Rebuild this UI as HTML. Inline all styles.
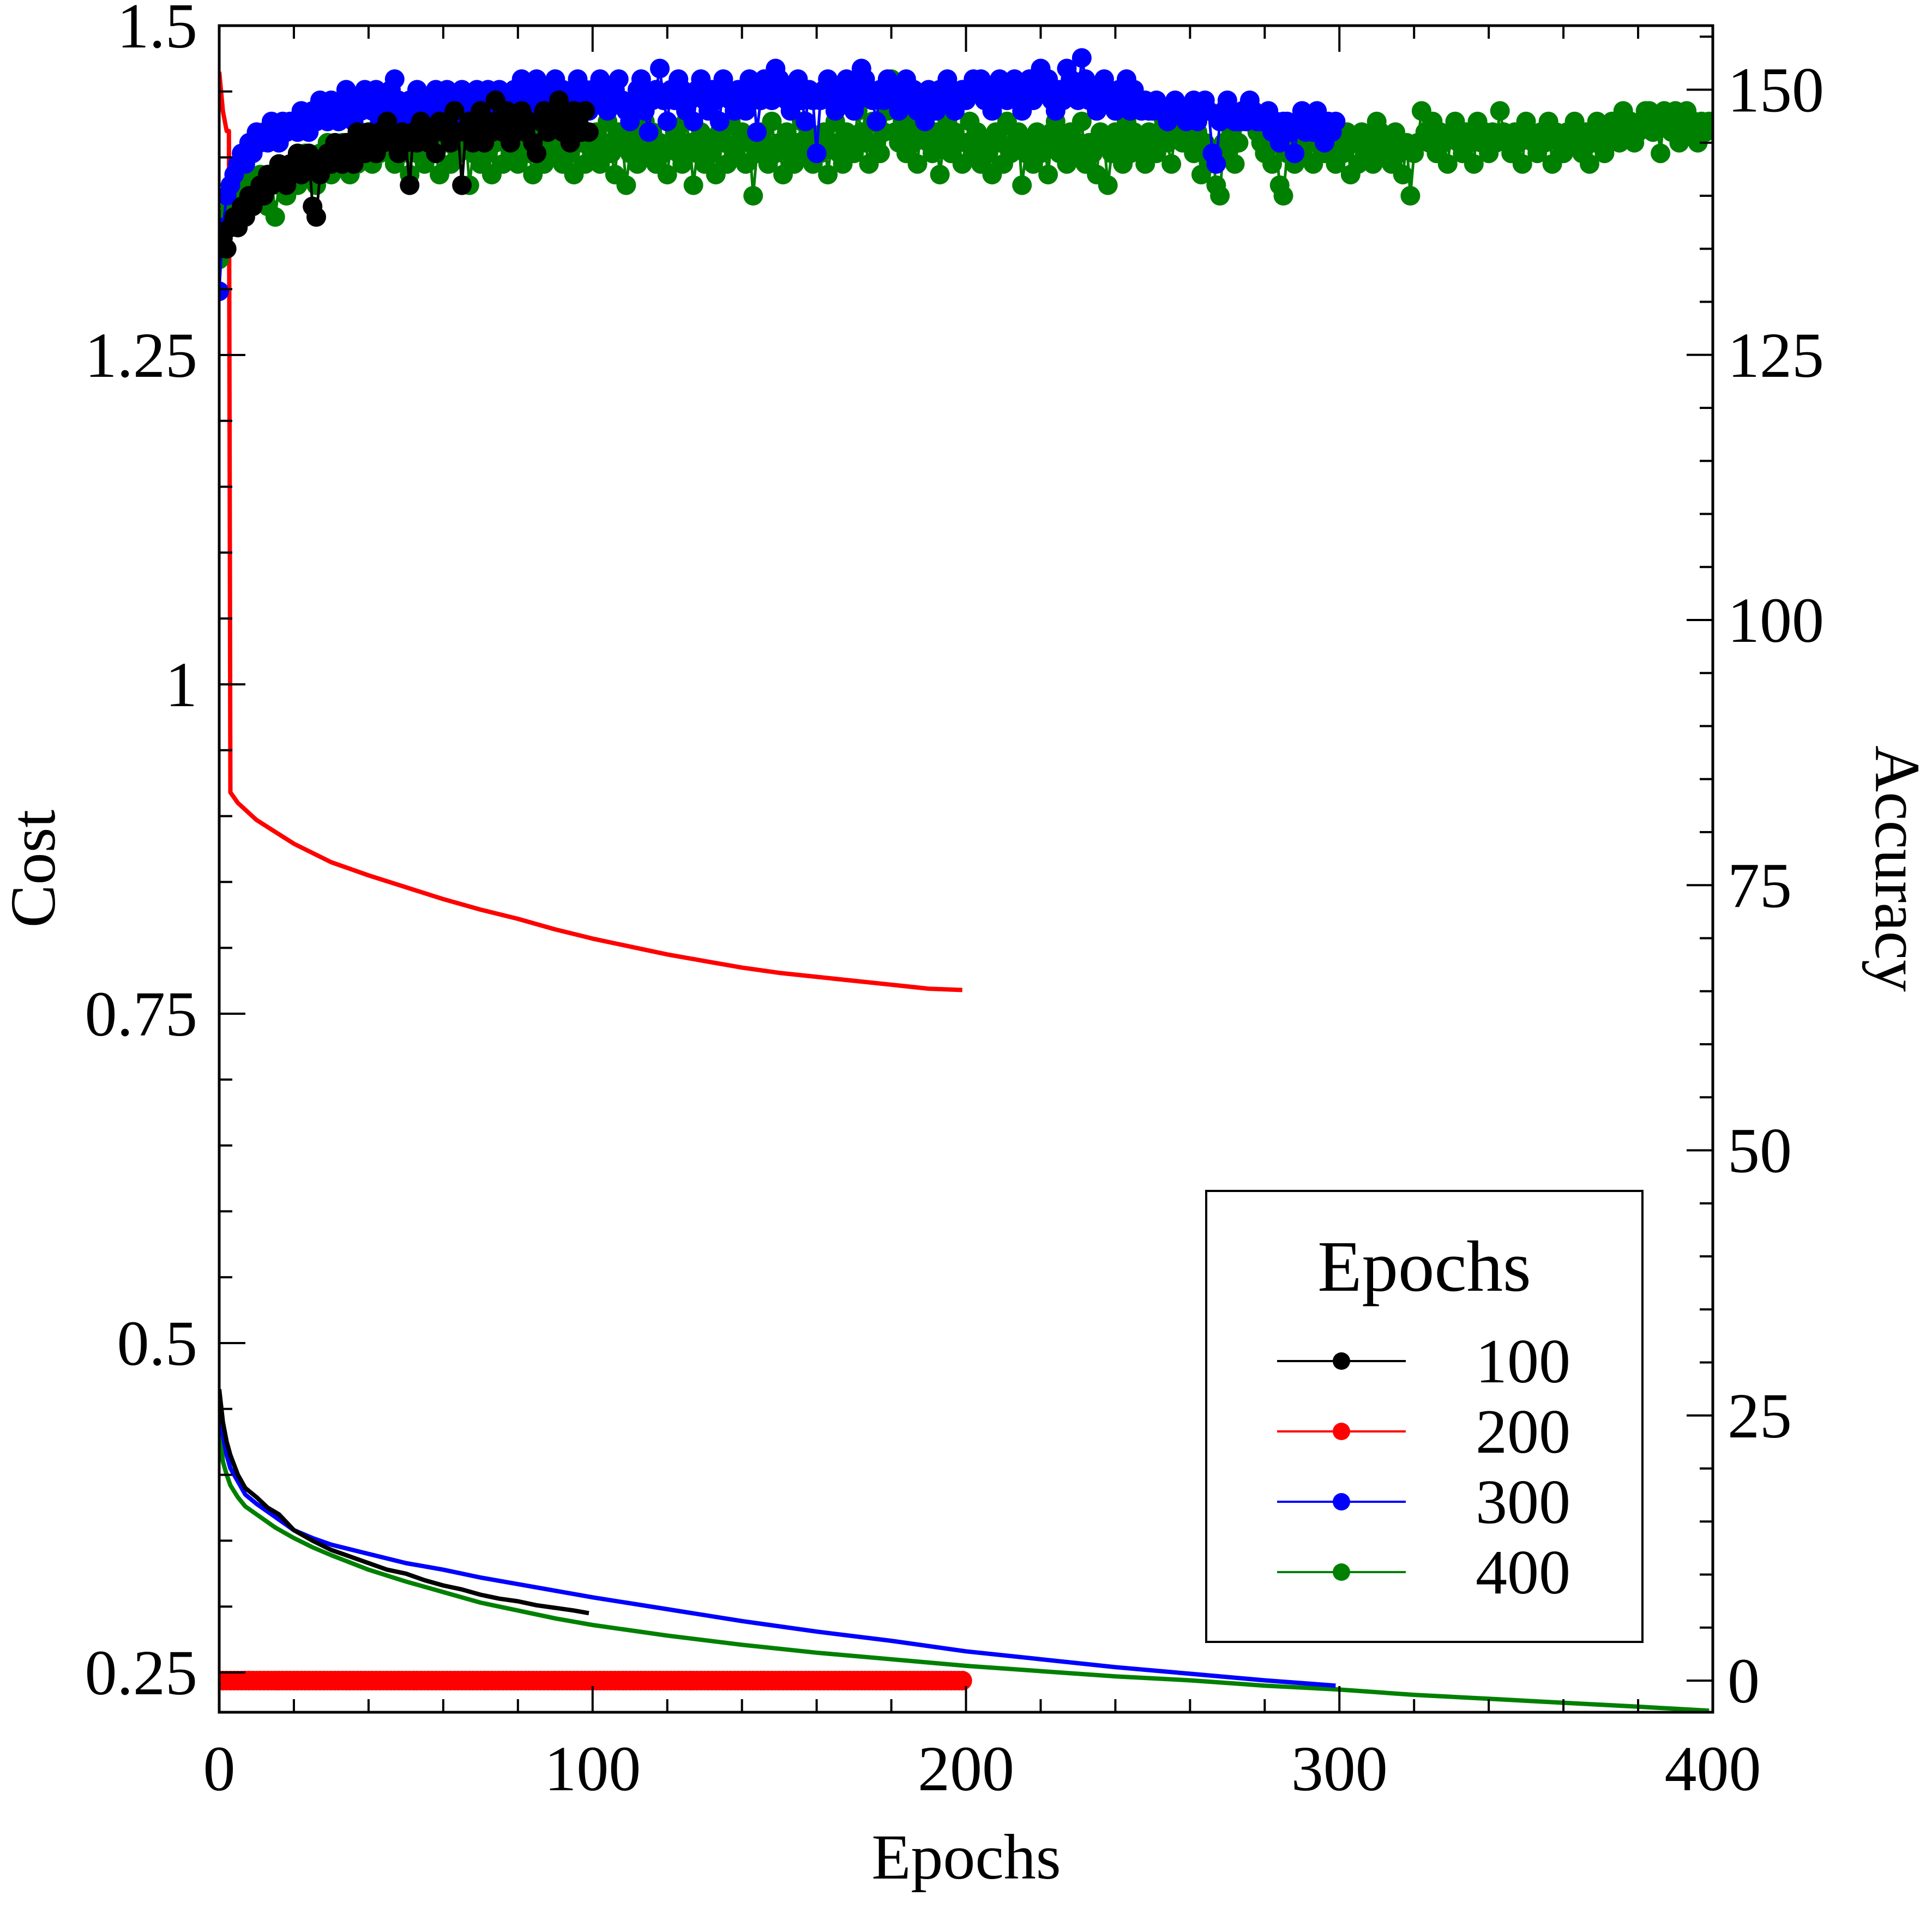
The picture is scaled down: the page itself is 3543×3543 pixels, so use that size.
<!DOCTYPE html>
<html><head><meta charset="utf-8"><style>
html,body{margin:0;padding:0;background:#fff;}
svg{display:block;font-family:"Liberation Serif","DejaVu Serif",serif;}
</style></head><body>
<svg id="chart" width="3543" height="3543" viewBox="0 0 3543 3543" xmlns="http://www.w3.org/2000/svg">
<rect x="0" y="0" width="3543" height="3543" fill="#fff"/>
<g id="marks"></g>
<g id="axes"></g>
<g id="legend"></g>
</svg>
<script>
const xTicks=[0,100,200,300,400];
const costTicks=[0.25,0.5,0.75,1,1.25,1.5];
const costTickLabels=["0.25","0.5","0.75","1","1.25","1.5"];
const accTicks=[0,25,50,75,100,125,150];
const legendLabels=["100","200","300","400"];

const blackCostEpochs=[0,1,2,3,5,7,10,13,16,20,25,30,35,40,45,50,55,60,65,70,75,80,85,90,95,99];
const blackCost=[0.465,0.44,0.425,0.415,0.40,0.39,0.383,0.375,0.37,0.358,0.35,0.343,0.338,0.333,0.328,0.325,0.32,0.316,0.313,0.309,0.306,0.304,0.301,0.299,0.297,0.295];
const blueCostEpochs=[0,1,2,3,5,7,10,15,20,25,30,40,50,60,70,80,90,100,120,140,160,180,200,220,240,260,280,299];
const blueCost=[0.45,0.43,0.415,0.405,0.395,0.385,0.378,0.368,0.358,0.352,0.347,0.34,0.333,0.328,0.322,0.317,0.312,0.307,0.298,0.289,0.281,0.274,0.266,0.26,0.254,0.249,0.244,0.240];
const greenCostEpochs=[0,1,2,3,5,7,10,15,20,25,30,40,50,60,70,80,90,100,120,140,160,180,200,220,240,260,280,300,320,340,360,380,399];
const greenCost=[0.44,0.41,0.40,0.392,0.383,0.376,0.37,0.36,0.352,0.345,0.339,0.328,0.319,0.311,0.303,0.297,0.291,0.286,0.278,0.271,0.265,0.26,0.255,0.251,0.247,0.244,0.24,0.237,0.233,0.23,0.227,0.224,0.221];
const redCostEpochs=[0,1,2,2.6,3,5,10,20,30,40,50,60,70,80,90,100,110,120,130,140,150,160,170,180,190,199];
const redCost=[1.465,1.435,1.42,1.42,0.918,0.91,0.897,0.879,0.865,0.855,0.846,0.837,0.829,0.822,0.814,0.807,0.801,0.795,0.79,0.785,0.781,0.778,0.775,0.772,0.769,0.768];

const blackAcc=[135,136,135,137,138,137,139,138,140,139,140,141,140,142,141,142,143,142,141,143,143,144,142,143,144,139,138,142,143,144,143,145,144,143,145,144,143,146,145,144,146,145,144,146,145,147,146,145,144,146,145,141,146,145,147,146,145,146,144,147,146,147,145,148,146,141,146,147,145,146,148,145,147,146,149,147,146,148,145,146,147,148,146,147,145,144,147,148,146,147,148,149,146,147,145,148,147,146,148,146];
const redAcc=[0,0,0,0,0,0,0,0,0,0,0,0,0,0,0,0,0,0,0,0,0,0,0,0,0,0,0,0,0,0,0,0,0,0,0,0,0,0,0,0,0,0,0,0,0,0,0,0,0,0,0,0,0,0,0,0,0,0,0,0,0,0,0,0,0,0,0,0,0,0,0,0,0,0,0,0,0,0,0,0,0,0,0,0,0,0,0,0,0,0,0,0,0,0,0,0,0,0,0,0,0,0,0,0,0,0,0,0,0,0,0,0,0,0,0,0,0,0,0,0,0,0,0,0,0,0,0,0,0,0,0,0,0,0,0,0,0,0,0,0,0,0,0,0,0,0,0,0,0,0,0,0,0,0,0,0,0,0,0,0,0,0,0,0,0,0,0,0,0,0,0,0,0,0,0,0,0,0,0,0,0,0,0,0,0,0,0,0,0,0,0,0,0,0,0,0,0,0,0,0];
const blueAcc=[131,137,140,141,142,143,144,143,145,144,146,145,146,145,147,146,145,147,146,147,
147,146,148,147,146,148,147,149,148,147,149,148,147,149,150,148,147,149,148,150,
149,148,150,147,149,148,150,151,149,148,147,149,148,150,149,147,149,148,150,149,
148,150,149,147,149,150,148,149,147,150,149,148,150,149,148,150,147,149,148,150,
149,151,148,150,149,151,150,148,150,149,151,148,150,149,147,150,151,149,150,148,
150,149,151,150,148,149,150,151,149,148,147,149,150,151,148,146,149,150,152,149,
147,150,149,151,150,148,149,147,150,151,149,148,150,149,147,151,150,149,148,150,
149,148,151,150,146,149,151,150,149,152,151,150,149,148,150,151,149,147,150,149,
144,149,150,151,149,148,150,149,151,150,148,149,152,151,150,149,147,150,149,151,
150,149,148,150,151,149,150,148,149,147,150,149,148,150,149,151,150,148,149,150,
149,150,151,150,151,149,150,148,149,151,150,149,150,151,149,148,150,151,149,150,
152,150,151,149,148,150,149,152,151,150,149,153,151,149,150,148,149,151,150,149,
148,150,149,151,148,150,149,148,149,148,148,149,148,148,147,148,149,148,148,147,
148,149,147,148,149,148,144,143,147,148,149,148,147,147,148,147,149,148,147,147,
147,148,146,147,145,147,147,146,144,147,148,146,147,146,148,147,145,147,146,147];
const greenAcc=[134,137,138,139,139,140,141,140,142,141,140,142,141,139,142,138,141,142,140,142,
143,141,142,144,142,143,141,144,143,145,142,144,143,145,144,142,145,143,146,144,
145,143,146,144,147,149,145,143,146,144,145,142,146,144,145,143,147,145,144,142,
146,145,143,147,144,145,146,141,144,145,143,146,144,142,145,147,143,145,144,146,
143,145,147,144,142,146,145,143,147,145,144,146,143,145,144,142,146,145,143,145,
144,146,143,145,147,144,142,146,145,141,144,146,143,145,147,144,146,143,145,144,
142,145,146,144,143,147,145,141,144,146,143,145,144,142,146,145,143,147,144,145,
146,143,145,140,144,146,145,143,147,144,145,142,146,144,143,145,147,144,146,143,
145,144,146,142,145,147,144,143,146,145,144,148,146,145,143,147,145,144,146,148,
151,146,145,147,144,146,145,143,147,146,145,144,146,142,145,147,144,146,145,143,
145,147,144,146,143,145,144,142,146,145,143,147,144,145,146,141,144,145,143,146,
144,145,142,146,147,144,145,143,146,144,145,147,143,145,144,142,146,145,141,144,
146,145,143,147,144,146,145,144,143,146,145,144,146,147,145,143,146,148,145,146,
145,144,146,142,145,143,144,141,140,145,144,146,143,145,147,148,148,148,146,145,
144,146,143,145,141,140,144,146,143,145,144,146,145,143,147,145,144,146,145,143,
145,144,146,142,145,143,146,144,145,143,147,146,144,145,143,146,144,142,145,140,
144,145,148,146,145,147,144,146,145,143,146,147,145,144,146,145,143,147,145,146,
144,146,145,148,146,145,144,146,145,143,147,146,145,144,146,145,147,143,146,145,
144,146,145,147,145,144,146,143,145,147,146,144,145,147,146,145,148,146,147,145,
146,147,148,148,146,147,144,148,147,146,148,145,147,148,146,147,145,147,146,147];

const NS="http://www.w3.org/2000/svg";
const L=402,R=3141,T=47,B=3140;
const X=e=>L+(e/400)*(R-L);
const YC=c=>47+(1.5-c)*(604/0.25);
const YA=a=>3082-a*19.45;
function mk(tag,attrs,parent){const el=document.createElementNS(NS,tag);for(const k in attrs)el.setAttribute(k,attrs[k]);parent.appendChild(el);return el;}
const marks=document.getElementById('marks');
const axes=document.getElementById('axes');
const legend=document.getElementById('legend');

const defs=mk('defs',{},marks);
const cp=mk('clipPath',{id:'pc'},defs);
mk('rect',{x:L,y:T,width:R-L,height:B-T},cp);
const plot=mk('g',{'clip-path':'url(#pc)'},marks);



function costLine(ep,vals,color,name){
  const d=ep.map((e,i)=>(i?'L':'M')+X(e).toFixed(1)+' '+YC(vals[i]).toFixed(1)).join(' ');
  const p=mk('path',{d:d,fill:'none',stroke:color,'stroke-width':8,'stroke-linejoin':'round'},plot);
  
  
}
function accSeries(vals,color,name){
  const g=mk('g',{},plot);
  
  
  const d=vals.map((v,i)=>(i?'L':'M')+X(i).toFixed(1)+' '+YA(v).toFixed(1)).join(' ');
  mk('path',{d:d,fill:'none',stroke:color,'stroke-width':5},g);
  vals.forEach((v,i)=>{const c=mk('circle',{cx:X(i).toFixed(1),cy:YA(v).toFixed(1),r:18,fill:color},g);
    
    });
}
costLine(greenCostEpochs,greenCost,'#008000','cost-line-400');
costLine(blueCostEpochs,blueCost,'#0000ff','cost-line-300');
costLine(blackCostEpochs,blackCost,'#000','cost-line-100');
costLine(redCostEpochs,redCost,'#ff0000','cost-line-200');
accSeries(redAcc,'#ff0000','accuracy-200');
accSeries(greenAcc,'#008000','accuracy-400');
accSeries(blueAcc,'#0000ff','accuracy-300');
accSeries(blackAcc,'#000','accuracy-100');

const fr=mk('rect',{x:L,y:T,width:R-L,height:B-T,fill:'none',stroke:'#000','stroke-width':5},axes);


function txt(s,x,y,size,anchor,name,rot){
  const t=mk('text',{x:x,y:y,'font-size':size,'text-anchor':anchor,fill:'#000'},axes);
  if(rot)t.setAttribute('transform',`rotate(${rot} ${x} ${y})`);
  t.textContent=s;
  
  
  return t;
}
for(let e=0;e<=400;e+=20){
  const major=e%100===0;const len=major?48:24;
  mk('line',{x1:X(e),y1:B,x2:X(e),y2:B-len,stroke:'#000','stroke-width':4},axes);
  mk('line',{x1:X(e),y1:T,x2:X(e),y2:T+len,stroke:'#000','stroke-width':4},axes);
}
xTicks.forEach(e=>txt(String(e),X(e),3283,118,'middle','x-tick-label'));
for(let k=0;k<=26;k++){
  const c=0.25+k*0.05; if(c>1.5001)break;
  const major=Math.abs((c/0.25)-Math.round(c/0.25))<1e-6;const len=major?48:24;
  mk('line',{x1:L,y1:YC(c),x2:L+len,y2:YC(c),stroke:'#000','stroke-width':4},axes);
}
costTicks.forEach((c,i)=>txt(costTickLabels[i],362,YC(c)+40,118,'end','cost-tick-label'));
for(let a=0;a<=155;a+=5){
  const len=a%25===0?48:24;
  mk('line',{x1:R,y1:YA(a),x2:R-len,y2:YA(a),stroke:'#000','stroke-width':4},axes);
}
accTicks.forEach(a=>txt(String(a),3168,YA(a)+40,118,'start','accuracy-tick-label'));
txt('Epochs',1772,3445,118,'middle','x-axis-title');
txt('Cost',100,1593,118,'middle','cost-axis-title',-90);
txt('Accuracy',3440,1593,118,'middle','accuracy-axis-title',90);

const box=mk('rect',{x:2212,y:2184,width:800,height:827,fill:'#fff',stroke:'#000','stroke-width':4},legend);


const lt=mk('text',{x:2612,y:2367,'font-size':133,'text-anchor':'middle'},legend);
lt.textContent='Epochs';


const lcolors=['#000','#ff0000','#0000ff','#008000'];
const lys=[2496,2625,2754,2883];
legendLabels.forEach((lab,i)=>{
  const g=mk('g',{},legend);
  
  
  mk('line',{x1:2342,y1:lys[i],x2:2578,y2:lys[i],stroke:lcolors[i],'stroke-width':4},g);
  mk('circle',{cx:2460,cy:lys[i],r:16,fill:lcolors[i]},g);
  const t=mk('text',{x:2880,y:lys[i]+39,'font-size':116,'text-anchor':'end'},g);
  t.textContent=lab;
});
</script>
</body></html>
